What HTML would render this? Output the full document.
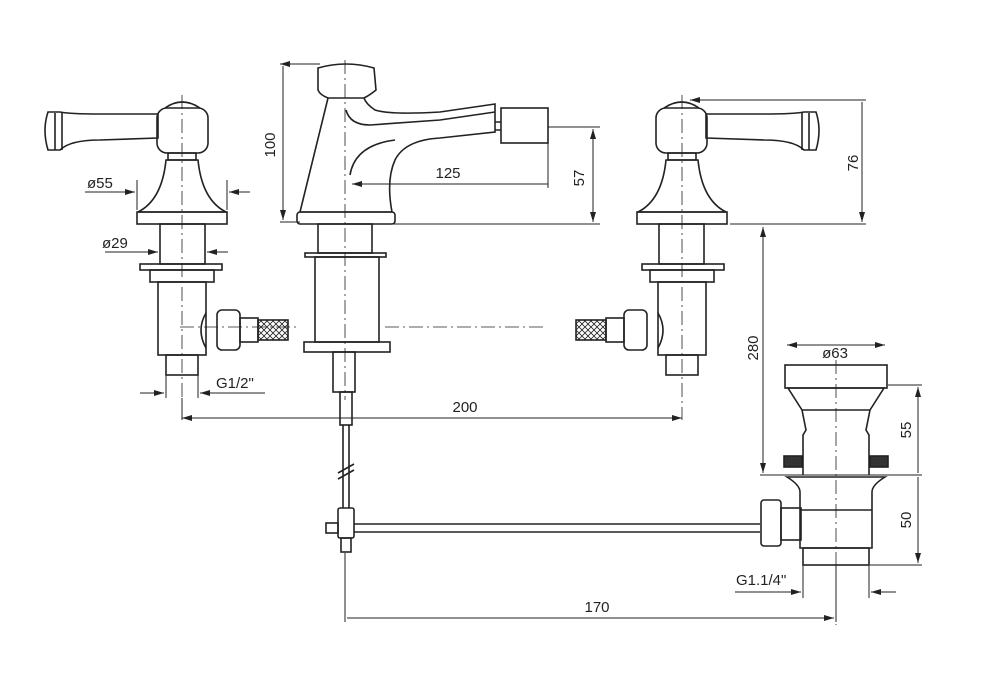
<!DOCTYPE html>
<html><head><meta charset="utf-8"><style>
html,body{margin:0;padding:0;background:#fff;}
svg{display:block}
text{font-family:"Liberation Sans",sans-serif;font-size:15px;fill:#222}
</style></head><body>
<svg width="1008" height="675" viewBox="0 0 1008 675" xmlns="http://www.w3.org/2000/svg">
<defs>
<marker id="a" viewBox="0 0 10 6" refX="10" refY="3" markerWidth="10" markerHeight="6" orient="auto-start-reverse" markerUnits="userSpaceOnUse"><path d="M0,0L10,3L0,6z" fill="#222"/></marker>
<pattern id="mesh" width="6" height="6" patternUnits="userSpaceOnUse"><path d="M0,0L6,6M6,0L0,6" stroke="#222" stroke-width="0.8"/></pattern>
</defs>
<g fill="none" stroke="#222" stroke-width="1.6">
<!-- LEFT TAP -->
<path d="M48,112 Q42,130 48,150 L60,150 Q70,140 100,140 L158,138 L158,114 L100,114 Q70,114 60,112 Z"/>
<path d="M55,113 L55,150 M62,113 L62,150"/>
<rect x="157" y="108" width="51" height="45" rx="10"/>
<path d="M165,108 Q182,96 200,108"/>
<rect x="168" y="153" width="28" height="7"/>
<path d="M166,160 L198,160 Q202,200 226,212 L138,212 Q162,200 166,160 Z"/>
<rect x="137" y="212" width="90" height="12"/>
<rect x="160" y="224" width="45" height="40"/>
<rect x="140" y="264" width="82" height="6"/>
<rect x="150" y="270" width="64" height="12"/>
<rect x="158" y="282" width="48" height="73"/>
<rect x="166" y="355" width="32" height="20"/>
<path d="M206,313 Q196,330 206,348"/>
<rect x="217" y="310" width="23" height="40" rx="5"/>
<rect x="240" y="318" width="18" height="24"/>
<rect x="258" y="320" width="30" height="20" fill="url(#mesh)"/>
<!-- RIGHT TAP (mirror) -->
<g transform="translate(864,0) scale(-1,1)">
<path d="M48,112 Q42,130 48,150 L60,150 Q70,140 100,140 L158,138 L158,114 L100,114 Q70,114 60,112 Z"/>
<path d="M55,113 L55,150 M62,113 L62,150"/>
<rect x="157" y="108" width="51" height="45" rx="10"/>
<path d="M165,108 Q182,96 200,108"/>
<rect x="168" y="153" width="28" height="7"/>
<path d="M166,160 L198,160 Q202,200 226,212 L138,212 Q162,200 166,160 Z"/>
<rect x="137" y="212" width="90" height="12"/>
<rect x="160" y="224" width="45" height="40"/>
<rect x="140" y="264" width="82" height="6"/>
<rect x="150" y="270" width="64" height="12"/>
<rect x="158" y="282" width="48" height="73"/>
<rect x="166" y="355" width="32" height="20"/>
<path d="M206,313 Q196,330 206,348"/>
<rect x="217" y="310" width="23" height="40" rx="5"/>
<rect x="240" y="318" width="18" height="24"/>
<rect x="258" y="320" width="30" height="20" fill="url(#mesh)"/>
</g>
<!-- SPOUT -->
<path d="M318,68 Q346,60 374,68 L376,90 Q370,95 364,98 L328,98 Q320,95 318,90 Z"/>
<path d="M328,98 L300,212 L392,212 Q386,180 395,160 Q405,140 440,138 L495,132 L495,104 L440,112 Q390,115 375,110 Q366,104 364,98"/>
<path d="M346,110 Q350,125 370,125 L440,120 L495,112 M350,175 Q355,145 395,140"/>
<rect x="297" y="212" width="98" height="12" rx="3"/>
<rect x="501" y="108" width="47" height="35"/>
<path d="M495,122 L501,122 M495,130 L501,130"/>
<rect x="318" y="224" width="54" height="29"/>
<rect x="305" y="253" width="81" height="4"/>
<rect x="315" y="257" width="64" height="85"/>
<rect x="304" y="342" width="86" height="10"/>
<rect x="333" y="352" width="22" height="40"/>
<rect x="340" y="392" width="12" height="33"/>
<path d="M343,425 L343,508 M349,425 L349,508 M338,473 L354,464 M338,479 L354,470"/>
<rect x="338" y="508" width="16" height="30" rx="2"/>
<rect x="341" y="538" width="10" height="14"/>
<rect x="326" y="523" width="12" height="10"/>
<path d="M354,524 L760,524 M354,532 L760,532"/>
<!-- POPUP -->
<rect x="785" y="365" width="102" height="23"/>
<path d="M788,388 L884,388 L870,410 L802,410 Z"/>
<path d="M802,410 L806,430 L803,435 L803,475 M870,410 L866,430 L869,435 L869,475"/>
<rect x="784" y="456" width="18" height="11" fill="#333"/>
<rect x="870" y="456" width="18" height="11" fill="#333"/>
<path d="M787,477 L885,477 Q872,485 872,492 L872,548 L800,548 L800,492 Q800,485 787,477 Z"/>
<path d="M800,510 L872,510"/>
<rect x="803" y="548" width="66" height="17"/>
<rect x="761" y="500" width="20" height="46" rx="3"/>
<rect x="781" y="508" width="20" height="32"/>
</g>
<!-- center lines -->
<g stroke="#222" stroke-width="0.8" stroke-dasharray="14,4,2,4" fill="none">
<path d="M182,95 L182,420 M682,95 L682,420 M345,60 L345,400 M836,360 L836,625"/>
<path d="M180,327 L300,327 M385,327 L545,327"/>
</g>
<!-- dimensions -->
<g stroke="#222" stroke-width="1" fill="none">
<path d="M280,64 L320,64 M280,222 L300,222 M283,66 L283,220" marker-start="url(#a)" marker-end="url(#a)"/>
<path d="M352,184 L548,184" marker-start="url(#a)"/>
<path d="M548,143 L548,188 M392,224 L600,224 M548,127 L600,127"/>
<path d="M593,129 L593,222" marker-start="url(#a)" marker-end="url(#a)"/>
<path d="M690,100 L866,100 M730,224 L866,224 M862,102 L862,222" marker-start="url(#a)" marker-end="url(#a)"/>
<path d="M763,227 L763,473" marker-start="url(#a)" marker-end="url(#a)"/>
<path d="M760,475 L922,475 M888,385 L922,385 M870,565 L922,565"/>
<path d="M918,387 L918,473 M918,477 L918,563" marker-start="url(#a)" marker-end="url(#a)"/>
<path d="M787,345 L885,345" marker-start="url(#a)" marker-end="url(#a)"/>
<path d="M182,418 L682,418" marker-start="url(#a)" marker-end="url(#a)"/>
<path d="M345,553 L345,622 M836,565 L836,622 M347,618 L834,618" marker-end="url(#a)"/>
<path d="M85,192 L135,192" marker-end="url(#a)"/><path d="M250,192 L229,192" marker-end="url(#a)"/>
<path d="M137,180 L137,210 M227,180 L227,210"/>
<path d="M105,252 L158,252" marker-end="url(#a)"/><path d="M228,252 L207,252" marker-end="url(#a)"/>
<path d="M140,393 L164,393" marker-end="url(#a)"/><path d="M265,393 L200,393" marker-end="url(#a)"/>
<path d="M166,375 L166,398 M198,375 L198,398 M182,398 L182,420"/>
<path d="M735,592 L801,592" marker-end="url(#a)"/><path d="M896,592 L871,592" marker-end="url(#a)"/>
<path d="M803,565 L803,598 M869,565 L869,598"/>
</g>
<text x="87" y="188">ø55</text>
<text x="102" y="248">ø29</text>
<text x="216" y="388">G1/2"</text>
<text x="448" y="178" text-anchor="middle">125</text>
<text x="465" y="412" text-anchor="middle">200</text>
<text x="597" y="612" text-anchor="middle">170</text>
<text x="835" y="358" text-anchor="middle">ø63</text>
<text x="736" y="585">G1.1/4"</text>
<text transform="translate(275,145) rotate(-90)" text-anchor="middle">100</text>
<text transform="translate(584,178) rotate(-90)" text-anchor="middle">57</text>
<text transform="translate(858,163) rotate(-90)" text-anchor="middle">76</text>
<text transform="translate(758,348) rotate(-90)" text-anchor="middle">280</text>
<text transform="translate(911,430) rotate(-90)" text-anchor="middle">55</text>
<text transform="translate(911,520) rotate(-90)" text-anchor="middle">50</text>
</svg>
</body></html>
